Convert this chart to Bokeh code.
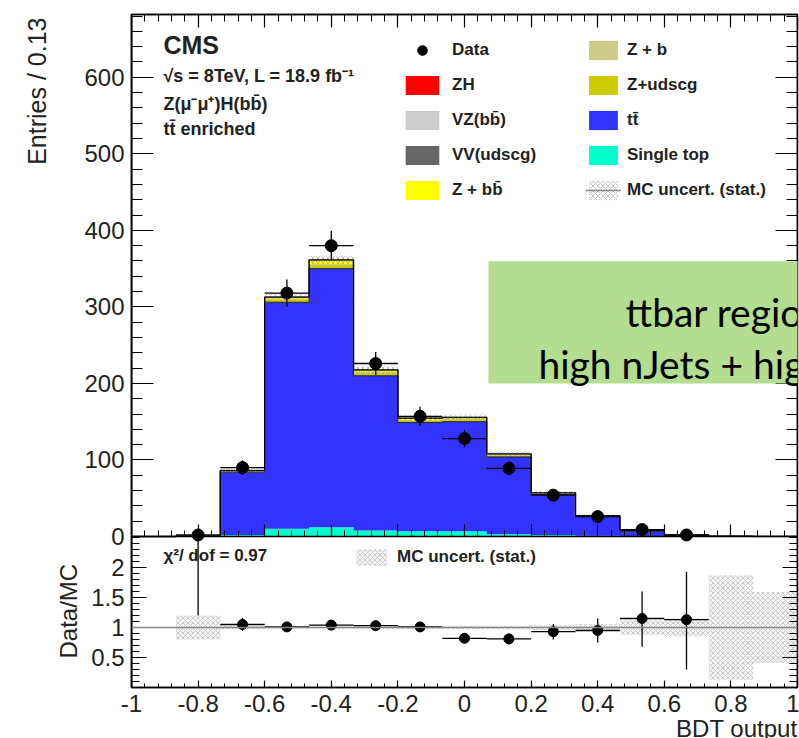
import numpy as np
from bokeh.plotting import figure
from bokeh.models import (Range1d, LinearAxis, FixedTicker, CustomJSTickFormatter,
                          Label, BoxAnnotation, Span, Legend, LegendItem, Title)
from bokeh.embed import file_html
from bokeh.resources import INLINE

# ---------------- binning of the BDT output ----------------
bdt_min, bdt_max, n_bins = -1.0, 1.0, 15

# ---------------- MC expectation per bin (stack order: bottom -> top) ----------------
single_top = [0, 0, 2, 10, 12, 8, 7, 7, 3, 2, 1, 0.3, 0.1, 0, 0]
ttbar      = [0, 0.5, 82, 296, 338, 202, 142, 143, 101, 53, 25, 6.8, 1.6, 0.3, 0.1]
z_udscg    = [0, 0.05, 1, 3, 5, 4, 3, 3, 2, 1, 0.5, 0.2, 0.05, 0, 0]
z_b        = [0, 0, 0.3, 1, 1.5, 1, 0.5, 0.5, 0.4, 0.2, 0.1, 0, 0, 0, 0]
z_bb       = [0, 0.05, 0.5, 2, 4, 2, 1.5, 1.5, 1, 0.5, 0.3, 0.1, 0.03, 0, 0]
vv_udscg   = [0, 0, 0.2, 0.5, 0.5, 0.4, 0.3, 0.3, 0.2, 0.1, 0.05, 0, 0, 0, 0]
vz_bb      = [0, 0, 0.1, 0.3, 0.3, 0.3, 0.2, 0.2, 0.2, 0.1, 0.1, 0.05, 0, 0, 0]
zh         = [0, 0, 0, 0.05, 0.05, 0.05, 0.05, 0.1, 0.1, 0.1, 0.1, 0.1, 0.05, 0, 0]

# relative MC statistical uncertainty per bin
mc_rel_unc = [0, 0.2, 0.03, 0.015, 0.015, 0.02, 0.025, 0.025, 0.03, 0.04, 0.06, 0.12, 0.15, 0.87, 0.59]

# observed events per bin
data_counts = [0, 2, 90, 318, 380, 226, 157, 128, 89, 54, 26, 9, 2, 0, 0]

# data / MC ratio with its error bars
nan = float("nan")
ratio_vals   = [nan, 3.3, 1.05, 1.01, 1.04, 1.03, 1.01, 0.82, 0.81, 0.93, 0.95, 1.15, 1.13, nan, nan]
ratio_err_lo = [nan, 2.1, 0.11, 0.06, 0.055, 0.07, 0.08, 0.075, 0.09, 0.13, 0.2, 0.47, 0.83, nan, nan]
ratio_err_hi = [nan, 3.0, 0.11, 0.06, 0.055, 0.07, 0.08, 0.075, 0.09, 0.13, 0.2, 0.45, 0.80, nan, nan]

# axis ticks and their labels
x_ticks = [-1, -0.8, -0.6, -0.4, -0.2, 0, 0.2, 0.4, 0.6, 0.8, 1]
x_tick_labels = ["-1", "-0.8", "-0.6", "-0.4", "-0.2", "0", "0.2", "0.4", "0.6", "0.8", "1"]
y_ticks_main = [0, 100, 200, 300, 400, 500, 600]
y_tick_labels_main = ["0", "100", "200", "300", "400", "500", "600"]
y_ticks_ratio = [0.5, 1, 1.5, 2]
y_tick_labels_ratio = ["0.5", "1", "1.5", "2"]

# axis extents of the two pads
main_max = 682.0
ratio_max = 2.5

FONT = "Liberation Sans"
TEXT = "#222222"

# pad geometry in pixels (upper pad, gap, lower pad)
MAIN_H, GAP_H, RATIO_H = 522, 1, 150
FRAME_H = MAIN_H + GAP_H + RATIO_H
main_min = -main_max * (GAP_H + RATIO_H) / MAIN_H
ratio_range_end = ratio_max * FRAME_H / RATIO_H


def ratio_to_main(v):
    """Position of a ratio-pad value in the coordinates of the upper pad."""
    return main_min + np.asarray(v, dtype=float) * (main_max - main_min) / ratio_range_end


edges = np.linspace(bdt_min, bdt_max, n_bins + 1)
centers = 0.5 * (edges[:-1] + edges[1:])
half_w = 0.5 * (edges[1] - edges[0])

x_minor = [round(v, 2) for v in np.arange(-1.0, 1.0001, 0.04)]
y_minor_main = list(range(0, 700, 20))
y_minor_ratio = [round(v, 1) for v in np.arange(0, 2.51, 0.1)]

NO_LABELS = CustomJSTickFormatter(code="return ''")
LOOKUP = """
    for (let i = 0; i < pos.length; i++) { if (Math.abs(pos[i] - tick) < 1e-6) return labs[i]; }
    return '';"""


def style_axis(ax, major_in, minor_in, labels=True):
    ax.major_tick_in = major_in
    ax.major_tick_out = 0
    ax.minor_tick_in = minor_in
    ax.minor_tick_out = 0
    ax.axis_line_color = "black"
    ax.axis_line_width = 1.5
    ax.major_tick_line_color = "black"
    ax.minor_tick_line_color = "black"
    ax.major_tick_line_width = 1.2
    ax.minor_tick_line_width = 1.0
    if labels:
        ax.major_label_text_font = FONT
        ax.major_label_text_font_size = "24px"
        ax.major_label_text_color = TEXT
    else:
        ax.formatter = NO_LABELS
        ax.major_label_text_font_size = "1px"
        ax.major_label_standoff = 0


p = figure(frame_width=666, frame_height=FRAME_H, min_border_left=131, min_border_right=2,
           min_border_top=14, min_border_bottom=20,
           x_range=Range1d(bdt_min, bdt_max), y_range=Range1d(main_min, main_max),
           output_backend="svg", toolbar_location=None)
p.extra_y_ranges = {"ratio": Range1d(0, ratio_range_end)}
p.grid.visible = False
p.outline_line_color = "black"
p.outline_line_width = 1.5
p.border_fill_color = "white"
xa = p.below[0]
ya = p.left[0]

# ---- bottom axis: tick labels of the ratio pad ----
xa.ticker = FixedTicker(ticks=x_ticks, minor_ticks=x_minor)
xa.formatter = CustomJSTickFormatter(args=dict(pos=x_ticks, labs=x_tick_labels), code=LOOKUP)
style_axis(xa, 7, 4)
xa.major_label_standoff = 7

# ---- left axis: labels of both pads (ticks are drawn by the fixed axes below) ----
left_pos = list(y_ticks_main) + [float(v) for v in ratio_to_main(y_ticks_ratio)]
left_labs = list(y_tick_labels_main) + list(y_tick_labels_ratio)
ya.ticker = FixedTicker(ticks=left_pos, minor_ticks=[])
ya.formatter = CustomJSTickFormatter(args=dict(pos=left_pos, labs=left_labs), code=LOOKUP)
style_axis(ya, 0, 0)
ya.major_label_standoff = 7

# tick marks of both pads on the left and right frame edges
for side, loc in (("left", bdt_min), ("right", bdt_max)):
    ax = LinearAxis(fixed_location=loc, bounds=(0, main_max),
                    ticker=FixedTicker(ticks=y_ticks_main, minor_ticks=y_minor_main))
    style_axis(ax, 22, 11, labels=False)
    p.add_layout(ax, side)
    axr = LinearAxis(y_range_name="ratio", fixed_location=loc, bounds=(0, ratio_max),
                     ticker=FixedTicker(ticks=y_ticks_ratio, minor_ticks=y_minor_ratio))
    style_axis(axr, 15, 8, labels=False)
    p.add_layout(axr, side)

ax_top = LinearAxis(ticker=FixedTicker(ticks=x_ticks, minor_ticks=x_minor))
style_axis(ax_top, 13, 7, labels=False)
p.add_layout(ax_top, "above")

ax_mid = LinearAxis(ticker=FixedTicker(ticks=x_ticks, minor_ticks=x_minor), fixed_location=0)
style_axis(ax_mid, 12, 6, labels=False)
p.add_layout(ax_mid, "below")

# ---- axis titles ----
title_style = dict(text_font=FONT, text_font_style="normal", text_color=TEXT)
p.add_layout(Title(text="Data/MC", align="left", offset=29, standoff=0, text_font_size="24px",
                   **title_style), "left")
p.add_layout(Title(text="Entries / 0.13", align="right", offset=3, standoff=4, text_font_size="25px",
                   **title_style), "left")
p.add_layout(Title(text="BDT output", align="right", vertical_align="top", standoff=0,
                   text_font_size="24px", **title_style), "below")

# ---- stacked MC histograms ----
components = [
    ("Single top", single_top, "#00ffcc"),
    ("tt\u0304", ttbar, "#3333ff"),
    ("Z+udscg", z_udscg, "#cccc00"),
    ("Z + b", z_b, "#cccc88"),
    ("Z + bb\u0304", z_bb, "#ffff00"),
    ("VV(udscg)", vv_udscg, "#666666"),
    ("VZ(bb\u0304)", vz_bb, "#cccccc"),
    ("ZH", zh, "#ff0000"),
]
stack_r = {}
bottom = np.zeros(n_bins)
ttbar_top = None
for name, vals, col in components:
    top = bottom + np.asarray(vals, dtype=float)
    rr = p.varea_step(x=edges, y1=np.append(bottom, bottom[-1]), y2=np.append(top, top[-1]),
                      step_mode="after", fill_color=col)
    stack_r[name] = rr
    if name == "tt\u0304":
        ttbar_top = top.copy()
    bottom = top
mc_total = bottom

# central MC value (grey) under the black stack outline
unc_line = p.step(x=edges, y=np.append(mc_total, mc_total[-1]), mode="after",
                  line_color="#888888", line_width=1.5)
p.step(x=edges, y=np.append(ttbar_top, ttbar_top[-1]), mode="after", line_color="#222222", line_width=1)
p.step(x=edges, y=np.append(mc_total, mc_total[-1]), mode="after", line_color="black", line_width=1.3)

# MC statistical uncertainty
rel = np.asarray(mc_rel_unc)
unc_r = p.quad(left=edges[:-1], right=edges[1:], bottom=mc_total * (1 - rel), top=mc_total * (1 + rel),
               fill_color=None, line_color=None, hatch_pattern="x", hatch_color="#777777",
               hatch_scale=5, hatch_weight=0.7, hatch_alpha=0.6)

# data with Poisson errors
d = np.asarray(data_counts, dtype=float)
m = d > 0
err = np.sqrt(d[m])
p.segment(x0=centers[m] - half_w, x1=centers[m] + half_w, y0=d[m], y1=d[m], line_color="black", line_width=1.3)
p.segment(x0=centers[m], x1=centers[m], y0=d[m] - err, y1=d[m] + err, line_color="black", line_width=1.3)
data_r = p.scatter(x=centers[m], y=d[m], size=12, color="black")

# ---- ratio pad ----
mb = mc_total > 0
band_r = p.quad(left=edges[:-1][mb], right=edges[1:][mb], bottom=1 - rel[mb], top=1 + rel[mb],
                y_range_name="ratio", fill_color="#eeeeee", fill_alpha=0.7, line_color=None,
                hatch_pattern="x", hatch_color="#aaaaaa", hatch_scale=5, hatch_weight=0.7, hatch_alpha=0.8)
p.add_layout(Span(location=1, dimension="width", y_range_name="ratio", line_color="#888888", line_width=1.5))

rv = np.asarray(ratio_vals)
rlo = np.asarray(ratio_err_lo)
rhi = np.asarray(ratio_err_hi)
has = np.isfinite(rv)
shown = has & (rv <= ratio_max)
p.segment(x0=centers[shown] - half_w, x1=centers[shown] + half_w, y0=rv[shown], y1=rv[shown],
          y_range_name="ratio", line_color="black", line_width=1.3)
p.segment(x0=centers[has], x1=centers[has], y0=np.minimum(rv[has] - rlo[has], ratio_max),
          y1=np.minimum(rv[has] + rhi[has], ratio_max),
          y_range_name="ratio", line_color="black", line_width=1.3)
p.scatter(x=centers[shown], y=rv[shown], y_range_name="ratio", size=10, color="black")

# ---- legends ----
leg_common = dict(orientation="vertical", glyph_height=24, label_height=24, spacing=11,
                  padding=0, margin=0, border_line_color=None, background_fill_alpha=0,
                  label_text_font=FONT, label_text_font_style="bold",
                  label_text_font_size="17px", label_text_color=TEXT)
legend_bottom = 334 + GAP_H + RATIO_H
p.add_layout(Legend(items=[
    LegendItem(label="Data", renderers=[data_r]),
    LegendItem(label="ZH", renderers=[stack_r["ZH"]]),
    LegendItem(label="VZ(bb\u0304)", renderers=[stack_r["VZ(bb\u0304)"]]),
    LegendItem(label="VV(udscg)", renderers=[stack_r["VV(udscg)"]]),
    LegendItem(label="Z + bb\u0304", renderers=[stack_r["Z + bb\u0304"]]),
], location=(270, legend_bottom), glyph_width=42, label_standoff=9, **leg_common), "center")
p.add_layout(Legend(items=[
    LegendItem(label="Z + b", renderers=[stack_r["Z + b"]]),
    LegendItem(label="Z+udscg", renderers=[stack_r["Z+udscg"]]),
    LegendItem(label="tt\u0304", renderers=[stack_r["tt\u0304"]]),
    LegendItem(label="Single top", renderers=[stack_r["Single top"]]),
    LegendItem(label="MC uncert. (stat.)", renderers=[unc_r, unc_line]),
], location=(454, legend_bottom), glyph_width=36, label_standoff=6, **leg_common), "center")
p.add_layout(Legend(items=[LegendItem(label="MC uncert. (stat.)", renderers=[band_r])],
                    location=(221, 120), glyph_width=38, glyph_height=20, label_height=20,
                    label_standoff=7, padding=0, margin=0, border_line_color=None,
                    background_fill_alpha=0, label_text_font=FONT, label_text_font_style="bold",
                    label_text_font_size="17px", label_text_color=TEXT), "center")

# ---- header texts ----
p.add_layout(Label(x=-0.904, y=642, text="CMS", text_font=FONT, text_font_style="bold",
                   text_font_size="25px", text_baseline="middle", text_color=TEXT))
for txt, yy in [("\u221as =  8TeV, L = 18.9 fb\u207b\u00b9", 601),
                ("Z(\u03bc\u207b\u03bc\u207a)H(bb\u0304)", 565),
                ("tt\u0304 enriched", 533)]:
    p.add_layout(Label(x=-0.904, y=yy, text=txt, text_font=FONT, text_font_style="bold",
                       text_font_size="18px", text_baseline="middle", text_color=TEXT))
p.add_layout(Label(x=-0.904, y=2.2, y_range_name="ratio", text="\u03c7\u00b2/ dof = 0.97", text_font=FONT,
                   text_font_style="bold", text_font_size="17px", text_baseline="middle",
                   text_color=TEXT))

# ---- region note ----
p.add_layout(BoxAnnotation(left=0.072, right=1.05, bottom=200, top=359.5,
                           fill_color="#b3dd8f", fill_alpha=1.0, line_color=None))
p.add_layout(Label(x=0.4835, y=293, text="ttbar region", text_font="Lato", text_font_size="39px",
                   text_baseline="alphabetic", text_color="black"))
p.add_layout(Label(x=0.222, y=226, text="high nJets + high", text_font="Lato", text_font_size="39px",
                   text_baseline="alphabetic", text_color="black"))

open("out.html", "w").write(file_html(p, INLINE))
